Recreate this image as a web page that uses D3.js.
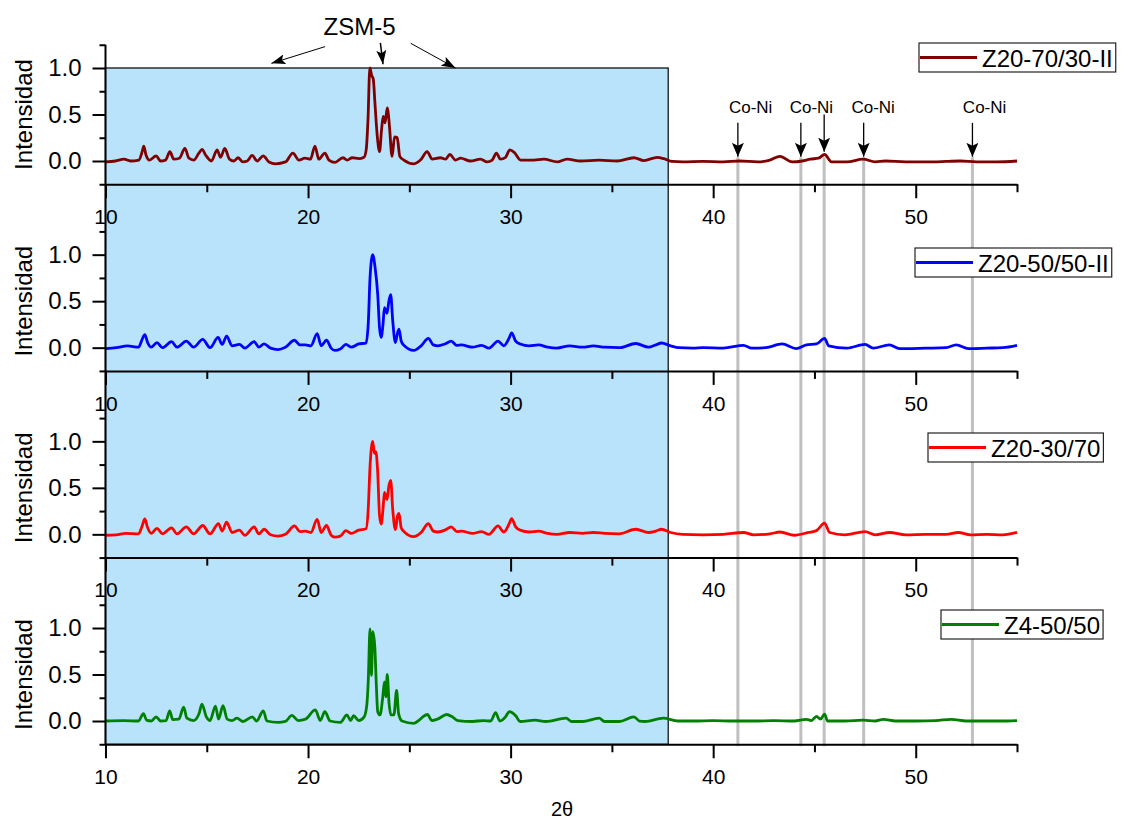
<!DOCTYPE html>
<html><head><meta charset="utf-8">
<script src="https://cdn.jsdelivr.net/npm/d3@7"></script>
<style>
body{margin:0;background:#fff}
svg{display:block}
text{font-family:Arial,"Liberation Sans",sans-serif;fill:#000}
</style>
</head><body>
<svg id="c" width="1121" height="823"></svg>
<script>
// ---------- data ----------
const seriesNames = ["Z20-70/30-II", "Z20-50/50-II", "Z20-30/70", "Z4-50/50"];

const z2070 = [[10,-0.01],[10.49,0],[10.91,0.02],[11.23,0],[11.65,0.01],[11.81,0.1],[11.89,0.16],[12.0,0.065],[12.17,0.01],[12.5,0.055],[12.72,0],[12.96,0.01],[13.18,0.1],[13.37,0.02],[13.65,0.03],[13.92,0.135],[14.12,0.03],[14.36,0.01],[14.61,0.085],[14.77,0.125],[14.94,0.065],[15.23,0],[15.51,0.12],[15.68,0.04],[15.89,0.135],[16.12,0.02],[16.34,0],[16.55,0.035],[16.78,-0.01],[17.0,0],[17.24,0.06],[17.49,0],[17.79,0.055],[18.07,-0.01],[18.4,-0.03],[18.89,-0.01],[19.25,0.085],[19.55,0.01],[19.84,0.03],[20.12,0.02],[20.34,0.16],[20.53,0.02],[20.83,0.085],[21.03,0.01],[21.33,-0.015],[21.72,0.035],[21.93,0.01],[22.18,0.035],[22.51,0.025],[22.76,0.04],[22.87,0.12],[22.96,0.45],[23.05,1.0],[23.14,0.92],[23.22,0.88],[23.3,0.63],[23.42,0.26],[23.53,0.1],[23.63,0.34],[23.71,0.48],[23.8,0.41],[23.91,0.57],[24.02,0.37],[24.12,0.08],[24.15,0.05],[24.27,0.26],[24.4,0.25],[24.53,0.05],[24.73,0.01],[25.22,-0.03],[25.55,0.01],[25.88,0.1],[26.13,0.02],[26.54,0.035],[26.79,0.02],[27.0,0.07],[27.28,0.01],[27.53,0.03],[28.02,0],[28.51,0.02],[28.84,-0.01],[29.09,0.01],[29.3,0.085],[29.5,0.02],[29.75,0.04],[29.96,0.12],[30.19,0.09],[30.49,0.01],[31.15,0.01],[31.64,0.02],[32.3,-0.01],[32.79,0.02],[33.45,0],[34.36,0.01],[35.26,0],[36.09,0.035],[36.58,0.005],[37.24,0.04],[37.57,0.025],[37.98,-0.005],[38.5,-0.01],[39.5,-0.005],[40.5,-0.01],[41.3,0.0],[42.2,-0.01],[42.8,0.01],[43.3,0.05],[43.9,-0.01],[44.4,0.0],[44.8,0.02],[45.2,0.03],[45.5,0.07],[45.85,-0.01],[46.6,-0.01],[47.4,0.02],[48.0,-0.01],[48.5,0.0],[49.5,-0.01],[50.5,-0.01],[51.5,-0.005],[52.2,0.0],[53,-0.01],[54,-0.01],[55,0.0]];

const z2050 = [[10,-0.01],[10.54,0],[11.09,0.02],[11.63,0.005],[11.81,0.09],[11.94,0.14],[12.08,0.055],[12.26,0.005],[12.54,0.055],[12.81,0],[13.26,0.065],[13.53,0.005],[13.99,0.07],[14.35,0.005],[14.8,0.09],[15.16,0],[15.56,0.11],[15.76,0.035],[15.98,0.125],[16.25,0.02],[16.61,0.035],[16.88,-0.005],[17.34,0.065],[17.57,0.005],[17.83,0.04],[18.15,-0.005],[18.51,-0.02],[18.88,0.005],[19.33,0.08],[19.6,0.03],[19.87,0.03],[20.14,0.02],[20.45,0.15],[20.65,0.02],[20.91,0.08],[21.14,-0.005],[21.32,-0.03],[21.59,-0.015],[21.87,0.035],[22.14,0.005],[22.5,0.04],[22.86,0.05],[22.97,0.25],[23.06,0.75],[23.19,1.0],[23.31,0.86],[23.44,0.57],[23.53,0.21],[23.61,0.11],[23.7,0.25],[23.77,0.43],[23.9,0.37],[23.99,0.5],[24.08,0.57],[24.18,0.29],[24.31,0.055],[24.42,0.16],[24.49,0.2],[24.6,0.07],[24.71,0.03],[25.22,-0.03],[25.58,0.02],[25.94,0.1],[26.18,0.03],[26.4,0.02],[26.76,0.04],[27.07,0.07],[27.34,0.025],[27.57,0.03],[28.12,0.005],[28.57,0.025],[28.93,-0.005],[29.38,0.07],[29.66,0.02],[29.93,0.105],[30.05,0.16],[30.25,0.07],[30.47,0.04],[30.92,0.02],[31.38,0.03],[31.83,0.005],[32.28,-0.005],[32.92,0.02],[33.55,0.005],[34.09,0.02],[34.64,0.005],[35.36,0],[36.18,0.045],[36.81,0.005],[37.17,0.03],[37.45,0.05],[37.9,0.02],[38.3,0],[39.0,-0.005],[39.5,0],[40.5,-0.005],[41.5,0.025],[41.9,-0.005],[42.6,0.0],[43.4,0.04],[44.1,-0.01],[44.6,0.03],[45.1,0.04],[45.5,0.1],[45.7,0.02],[46.6,-0.005],[47.5,0.035],[47.9,-0.005],[48.7,0.03],[49.2,-0.01],[50.5,-0.005],[51.5,0.0],[52.0,0.03],[52.6,-0.01],[53.5,-0.005],[54.3,0.0],[55,0.025]];

const z2030 = [[10,-0.01],[10.54,-0.005],[11.0,0.01],[11.63,0.005],[11.81,0.09],[11.94,0.165],[12.08,0.07],[12.26,0.01],[12.54,0.065],[12.81,0.005],[13.26,0.07],[13.53,0.005],[13.99,0.08],[14.35,0.005],[14.8,0.095],[15.16,0.005],[15.58,0.115],[15.76,0.035],[15.98,0.13],[16.25,0.02],[16.61,0.045],[16.88,-0.01],[17.34,0.08],[17.57,0.005],[17.83,0.055],[18.15,-0.005],[18.51,-0.02],[18.88,0],[19.33,0.09],[19.6,0.03],[19.87,0.035],[20.14,0.02],[20.45,0.16],[20.65,0.02],[20.91,0.095],[21.14,-0.01],[21.32,-0.03],[21.59,-0.02],[21.87,0.04],[22.14,0.01],[22.5,0.045],[22.86,0.06],[22.97,0.27],[23.06,0.73],[23.19,1.0],[23.28,0.87],[23.35,0.89],[23.44,0.66],[23.53,0.2],[23.61,0.11],[23.7,0.27],[23.77,0.45],[23.9,0.375],[23.99,0.52],[24.08,0.58],[24.18,0.27],[24.31,0.05],[24.42,0.2],[24.49,0.225],[24.6,0.07],[24.71,0.035],[25.22,-0.025],[25.58,0.02],[25.94,0.115],[26.18,0.035],[26.4,0.025],[26.76,0.045],[27.07,0.08],[27.34,0.03],[27.57,0.035],[28.12,0.01],[28.57,0.03],[28.93,0],[29.38,0.09],[29.66,0.025],[29.93,0.115],[30.05,0.17],[30.25,0.08],[30.47,0.045],[30.92,0.025],[31.38,0.035],[31.83,0.01],[32.28,0],[32.92,0.02],[33.55,0.01],[34.09,0.02],[34.64,0.01],[35.36,0.005],[36.18,0.055],[36.81,0.02],[37.17,0.035],[37.45,0.055],[37.9,0.02],[38.5,0.0],[39.5,-0.005],[40.5,0.0],[41.5,0.02],[42.0,-0.005],[42.8,0.005],[43.3,0.025],[44.0,-0.01],[44.7,0.02],[45.1,0.04],[45.5,0.12],[45.75,0.02],[46.5,-0.005],[47.5,0.03],[48.0,-0.005],[48.7,0.02],[49.5,-0.005],[50.5,0.0],[51.5,0.0],[52.1,0.02],[52.7,-0.005],[53.5,0.0],[54.3,-0.005],[55,0.02]];

const z450 = [[10,0],[10.91,0.005],[11.63,0],[11.87,0.08],[12.03,0.01],[12.26,0],[12.5,0.045],[12.72,0],[12.99,0.005],[13.17,0.11],[13.32,0.015],[13.62,0.02],[13.86,0.15],[14.02,0.03],[14.35,0.005],[14.62,0.08],[14.76,0.18],[14.98,0.045],[15.16,0.005],[15.43,0.16],[15.58,0.02],[15.8,0.165],[16.01,0.02],[16.25,0.005],[16.49,0.03],[16.79,-0.005],[17.25,0.045],[17.46,0],[17.79,0.11],[17.97,0],[18.51,-0.015],[18.88,-0.005],[19.2,0.06],[19.51,0.005],[19.87,0.02],[20.36,0.12],[20.6,0.005],[20.83,0.1],[21.09,0],[21.59,-0.015],[21.92,0.065],[22.1,0.005],[22.25,0.057],[22.5,0.005],[22.77,0.045],[22.9,0.17],[22.97,0.42],[23.06,0.99],[23.13,0.49],[23.2,0.96],[23.3,0.78],[23.37,0.39],[23.44,0.1],[23.55,0.065],[23.68,0.24],[23.77,0.42],[23.84,0.26],[23.91,0.5],[24.0,0.19],[24.09,0.065],[24.24,0.065],[24.37,0.33],[24.47,0.08],[24.64,0],[25.22,-0.025],[25.49,0.01],[25.67,0.045],[25.89,0.07],[26.12,0.005],[26.39,0.02],[26.85,0.07],[27.12,0.045],[27.39,0.005],[28.12,-0.005],[28.66,0.005],[29.02,0],[29.26,0.09],[29.47,0],[29.75,0.045],[29.93,0.1],[30.25,0.057],[30.47,-0.005],[31.2,0.01],[31.74,-0.005],[32.74,0.03],[33.0,-0.005],[33.55,-0.005],[34.37,0.03],[34.64,-0.005],[35.36,-0.005],[36.09,0.045],[36.36,0],[36.63,-0.005],[37.54,0.03],[38.26,0],[39.0,0.0],[40.0,0.005],[41.0,0.0],[42.0,0.0],[43.0,0.005],[44.0,0.0],[44.6,0.018],[44.85,0.005],[45.1,0.05],[45.3,0.02],[45.5,0.075],[45.65,0.0],[46.5,0.0],[47.4,0.01],[48.0,0.0],[48.4,0.018],[49.0,0.0],[50.0,0.0],[51.0,0.005],[51.75,0.018],[52.5,0.0],[53.5,0.0],[54.5,0.0],[55,0.005]];

const seriesData = [z2070, z2050, z2030, z450];
const seriesColors = ["#800000", "#0000ff", "#ff0000", "#008000"];

const xMajorTicks = [10, 20, 30, 40, 50];
const xMinorTicks = [15, 25, 35, 45, 55];
const yMajorTicks = [0, 0.5, 1.0];
const yMinorTicks = [-0.25, 0.25, 0.75, 1.25];
const xDomain = [10, 55];
const yDomain = [-0.25, 1.25];

const zsmRegion = [10, 37.78];            // shaded 2θ range (ZSM-5)
const coNiPeaks = [41.22, 44.33, 45.48, 47.43, 52.8];
const coNiLabels = [41.85, 44.85, 47.9, 53.4];
const zsmLabel = "ZSM-5";
const coNiText = "Co-Ni";
const yTitle = "Intensidad";
const xTitle = "2θ";

// ---------- layout ----------
const svg = d3.select("#c");
const L = 105.5, R = 1017;
const panelTop0 = 44.75, panelH = 139.5, panelStep = 186.67;
const x = d3.scaleLinear().domain(xDomain).range([L, R]);
const yScales = seriesNames.map((_, i) => {
  const top = panelTop0 + i * panelStep;
  return d3.scaleLinear().domain(yDomain).range([top + panelH, top]);
});
const font = 'Arial,"Liberation Sans",sans-serif';

// shaded region
const y0 = yScales[0], y3 = yScales[3];
svg.append("rect")
  .attr("x", x(zsmRegion[0])).attr("y", y0(1.0))
  .attr("width", x(zsmRegion[1]) - x(zsmRegion[0]))
  .attr("height", y3.range()[0] - y0(1.0))
  .attr("fill", "#b9e3fb").attr("stroke", "#000").attr("stroke-width", 1.2);

// gray reference lines
svg.append("g").selectAll("line").data(coNiPeaks).join("line")
  .attr("x1", d => x(d)).attr("x2", d => x(d))
  .attr("y1", y0(0.04)).attr("y2", y3.range()[0] + 2)
  .attr("stroke", "#c0c0c0").attr("stroke-width", 3);

// curves
const line = d3.line().x(d => x(d[0])).curve(d3.curveMonotoneX);
seriesData.forEach((data, i) => {
  const y = yScales[i];
  svg.append("path").datum(data)
    .attr("d", line.y(d => y(d[1])))
    .attr("fill", "none").attr("stroke", seriesColors[i])
    .attr("stroke-width", 2.8).attr("stroke-linejoin", "round");
});

// axes
yScales.forEach((y, i) => {
  const bottom = y.range()[0];
  const gx = svg.append("g").attr("transform", `translate(0,${bottom})`)
    .call(d3.axisBottom(x).tickValues(xMajorTicks).tickSize(14).tickPadding(11)
      .tickSizeOuter(0).tickFormat(d3.format("d")));
  gx.select(".domain").attr("stroke-width", 2);
  gx.selectAll(".tick line").attr("stroke-width", 2);
  gx.selectAll(".tick text").attr("font-size", 21).attr("font-family", font);
  const gxm = svg.append("g").attr("transform", `translate(0,${bottom})`)
    .call(d3.axisBottom(x).tickValues(xMinorTicks).tickSize(8).tickFormat(""));
  gxm.select(".domain").remove();
  gxm.selectAll(".tick line").attr("stroke-width", 2);

  const gy = svg.append("g").attr("transform", `translate(${L},0)`)
    .call(d3.axisLeft(y).tickValues(yMajorTicks).tickSize(13).tickPadding(11)
      .tickSizeOuter(0).tickFormat(d3.format(".1f")));
  gy.select(".domain").remove();
  gy.selectAll(".tick line").attr("stroke-width", 2);
  gy.selectAll(".tick text").attr("font-size", 24).attr("font-family", font);
  const gym = svg.append("g").attr("transform", `translate(${L},0)`)
    .call(d3.axisLeft(y).tickValues(yMinorTicks).tickSize(6).tickFormat(""));
  gym.select(".domain").remove();
  gym.selectAll(".tick line").attr("stroke-width", 2);

  // y title
  const cy = (y.range()[0] + y.range()[1]) / 2;
  svg.append("text").attr("transform", `translate(23,${cy}) rotate(-90)`)
    .attr("text-anchor", "middle").attr("dominant-baseline", "central")
    .attr("font-size", 24).text(yTitle);
});
// continuous left axis line
svg.append("line").attr("x1", L).attr("x2", L)
  .attr("y1", y0.range()[1]).attr("y2", y3.range()[0])
  .attr("stroke", "#000").attr("stroke-width", 2);

// x title
svg.append("text").attr("x", 562).attr("y", 816).attr("text-anchor", "middle")
  .attr("font-size", 20).text(xTitle);

// legends
const legendPos = [[919, 43], [915, 248], [928, 433], [941, 610]];
seriesNames.forEach((name, i) => {
  const [lx, ly] = legendPos[i];
  const g = svg.append("g");
  const box = g.append("rect").attr("x", lx).attr("y", ly).attr("height", 29)
    .attr("fill", "#fff").attr("stroke", "#222").attr("stroke-width", 1.2);
  g.append("line").attr("x1", lx + 1).attr("x2", lx + 58)
    .attr("y1", ly + 14.5).attr("y2", ly + 14.5)
    .attr("stroke", seriesColors[i]).attr("stroke-width", 3);
  const t = g.append("text").attr("x", lx + 63).attr("y", ly + 23.5)
    .attr("font-size", 24).text(name);
  const w = t.node().getComputedTextLength();
  box.attr("width", 63 + w + 3);
});

// arrow markers
const defs = svg.append("defs");
defs.append("marker").attr("id", "ah").attr("markerUnits", "userSpaceOnUse")
  .attr("viewBox", "0 0 14 12").attr("markerWidth", 14).attr("markerHeight", 12)
  .attr("refX", 14).attr("refY", 6).attr("orient", "auto")
  .append("path").attr("d", "M0,0 L14,6 L0,12 L3,6 Z").attr("fill", "#000");
defs.append("marker").attr("id", "ah2").attr("markerUnits", "userSpaceOnUse")
  .attr("viewBox", "0 0 14 10").attr("markerWidth", 14).attr("markerHeight", 10)
  .attr("refX", 14).attr("refY", 5).attr("orient", "auto")
  .append("path").attr("d", "M0,0 L14,5 L0,10 L3,5 Z").attr("fill", "#000");

// Co-Ni annotations
coNiPeaks.forEach((p, i) => {
  const tall = Math.abs(p - 45.48) < 0.01;
  svg.append("line").attr("x1", x(p)).attr("x2", x(p))
    .attr("y1", y0(tall ? 0.5 : 0.41)).attr("y2", y0(tall ? 0.1 : 0.045))
    .attr("stroke", "#000").attr("stroke-width", 1.3).attr("marker-end", "url(#ah)");
});
coNiLabels.forEach(p => {
  svg.append("text").attr("x", x(p)).attr("y", y0(0.57))
    .attr("text-anchor", "middle").attr("dominant-baseline", "central")
    .attr("font-size", 17).text(coNiText);
});

// ZSM-5 annotation
svg.append("text").attr("x", x(22.54)).attr("y", y0(1.36)).attr("text-anchor", "middle")
  .attr("font-size", 24).text(zsmLabel);
const zsmArrows = [[[20.84, 1.23], [18.19, 1.05]], [[23.57, 1.27], [23.7, 1.04]], [[25.07, 1.265], [27.28, 1.0]]];
zsmArrows.forEach(([a, b], k) => {
  svg.append("line").attr("x1", x(a[0])).attr("y1", y0(a[1]))
    .attr("x2", x(b[0])).attr("y2", y0(b[1]))
    .attr("stroke", "#000").attr("stroke-width", k === 1 ? 1.5 : 1).attr("marker-end", "url(#ah2)");
});
</script>
</body></html>
